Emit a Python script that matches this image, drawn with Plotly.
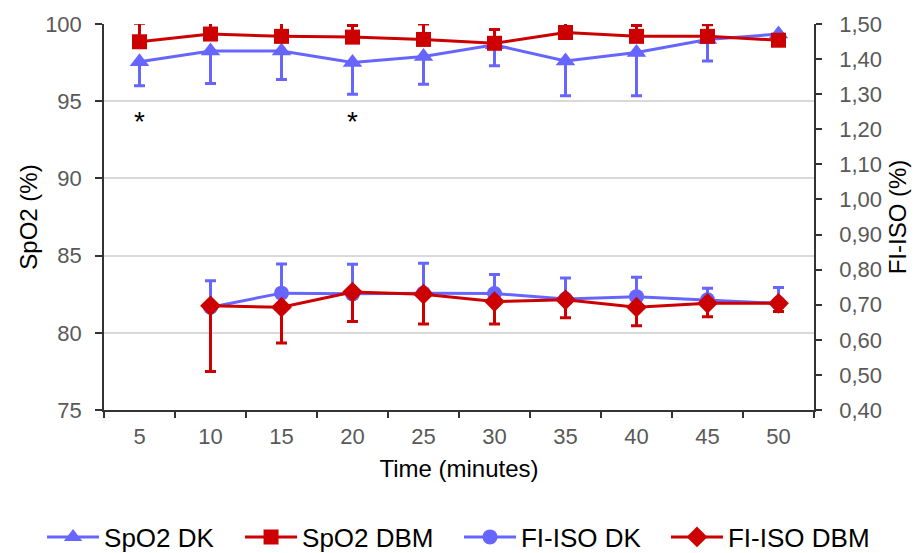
import plotly.graph_objects as go

time_labels = ["5", "10", "15", "20", "25", "30", "35", "40", "45", "50"]

spo2_dk = [97.55, 98.25, 98.25, 97.5, 97.9, 98.65, 97.6, 98.15, 99.0, 99.35]
spo2_dk_sd = [1.55, 2.1, 1.85, 2.05, 1.8, 1.35, 2.25, 2.8, 1.4, 0]
spo2_dbm = [98.85, 99.35, 99.2, 99.15, 99.0, 98.75, 99.45, 99.2, 99.2, 98.95]
spo2_dbm_sd = [1.2, 0.9, 0.95, 0.75, 1.0, 0.9, 0.8, 0.7, 0.75, 0]

fiiso_dk = [None, 0.693, 0.733, 0.731, 0.733, 0.732, 0.716, 0.723, 0.714, 0.704]
fiiso_dk_sd = [0, 0.075, 0.083, 0.084, 0.085, 0.054, 0.06, 0.055, 0.033, 0.045]
fiiso_dbm = [None, 0.697, 0.693, 0.736, 0.730, 0.709, 0.714, 0.693, 0.704, 0.704]
fiiso_dbm_sd = [0, 0.187, 0.102, 0.084, 0.085, 0.064, 0.051, 0.053, 0.038, 0.023]

star_times = ["5", "20"]
star_level = 93.7

BLUE = "#6666FF"
RED = "#CC0000"
FONT = "Liberation Sans, Arial, sans-serif"

zeros = [0] * len(time_labels)

fig = go.Figure()

fig.add_trace(go.Scatter(
    x=time_labels, y=spo2_dk, name="SpO2 DK", mode="lines+markers", legend="legend",
    line=dict(color=BLUE, width=3),
    marker=dict(symbol="triangle-up", size=17, color=BLUE),
    error_y=dict(type="data", symmetric=False, array=zeros, arrayminus=spo2_dk_sd,
                 color=BLUE, thickness=3, width=5.5),
))
fig.add_trace(go.Scatter(
    x=time_labels, y=spo2_dbm, name="SpO2 DBM", mode="lines+markers", legend="legend",
    line=dict(color=RED, width=3),
    marker=dict(symbol="square", size=15, color=RED),
    error_y=dict(type="data", symmetric=False, array=spo2_dbm_sd, arrayminus=zeros,
                 color=RED, thickness=3, width=5.5),
))
fig.add_trace(go.Scatter(
    x=time_labels, y=fiiso_dk, name="FI-ISO DK", mode="lines+markers", yaxis="y2",
    legend="legend2",
    line=dict(color=BLUE, width=3),
    marker=dict(symbol="circle", size=15, color=BLUE),
    error_y=dict(type="data", symmetric=False, array=fiiso_dk_sd, arrayminus=zeros,
                 color=BLUE, thickness=3, width=5.5),
))
fig.add_trace(go.Scatter(
    x=time_labels, y=fiiso_dbm, name="FI-ISO DBM", mode="lines+markers", yaxis="y2",
    legend="legend2",
    line=dict(color=RED, width=3),
    marker=dict(symbol="diamond", size=16, color=RED),
    error_y=dict(type="data", symmetric=False, array=zeros, arrayminus=fiiso_dbm_sd,
                 color=RED, thickness=3, width=5.5),
))

for t in star_times:
    fig.add_annotation(x=time_labels.index(t), y=star_level, xref="x", yref="y", text="*",
                       showarrow=False, font=dict(family=FONT, size=28, color="black"))

legend_common = dict(orientation="h", xref="container", yref="container",
                     y=0.0434, yanchor="middle", xanchor="left",
                     font=dict(family=FONT, size=26, color="black"),
                     itemwidth=52, tracegroupgap=0, bgcolor="rgba(0,0,0,0)")

fig.update_layout(
    width=920, height=553,
    margin=dict(l=96, r=114, t=16, b=151, autoexpand=False),
    paper_bgcolor="white", plot_bgcolor="white",
    font=dict(family=FONT, color="#595959", size=22),
    separators=",.",
    showlegend=True,
    legend=dict(x=0.037, entrywidth=131, **legend_common),
    legend2=dict(x=0.4902, entrywidth=140, **legend_common),
    xaxis=dict(
        type="category", range=[-0.5, 9.5], automargin=False,
        showline=True, linecolor="#333333", linewidth=1.5,
        ticks="outside", tickson="boundaries", ticklen=6, tickcolor="#333333", tickwidth=1.5,
        tickfont=dict(family=FONT, size=22, color="#595959"), ticklabelstandoff=6,
        showgrid=False, zeroline=False,
        title=dict(text="Time (minutes)", font=dict(family=FONT, size=24, color="black"), standoff=12),
    ),
    yaxis=dict(
        range=[75, 100], dtick=5, tick0=75, automargin=False,
        showline=True, linecolor="#333333", linewidth=1.5,
        ticks="outside", ticklen=7, tickcolor="#333333", tickwidth=1.5,
        tickfont=dict(family=FONT, size=22, color="#595959"), ticklabelstandoff=9,
        showgrid=True, gridcolor="#D9D9D9", gridwidth=1.5, zeroline=False,
        title=dict(text="SpO2 (%)", font=dict(family=FONT, size=24, color="black"), standoff=1),
    ),
    yaxis2=dict(
        overlaying="y", side="right", automargin=False,
        range=[0.4, 1.5], dtick=0.1, tick0=0.4, tickformat=".2f",
        showline=True, linecolor="#333333", linewidth=1.5,
        ticks="outside", ticklen=6, tickcolor="#333333", tickwidth=1.5,
        tickfont=dict(family=FONT, size=22, color="#595959"), ticklabelstandoff=13,
        showgrid=False, zeroline=False,
        title=dict(text="FI-ISO (%)", font=dict(family=FONT, size=24, color="black"), standoff=8),
    ),
)

fig.write_html("out.html")
